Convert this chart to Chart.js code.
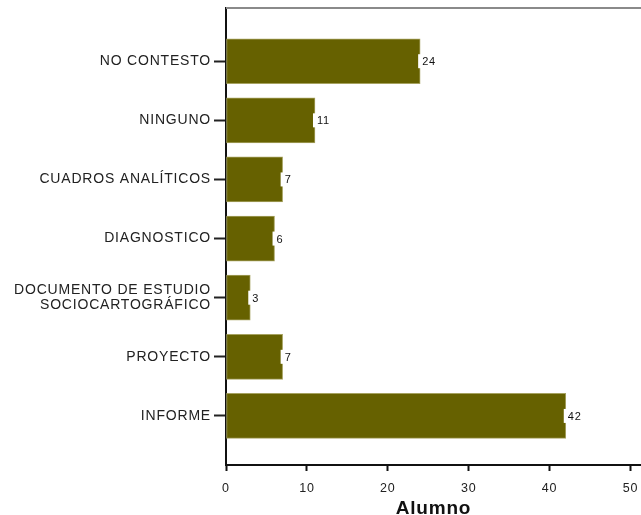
<!DOCTYPE html>
<html>
<head>
<meta charset="utf-8">
<script src="https://cdn.jsdelivr.net/npm/chart.js@4"></script>
<style>
  html, body { margin: 0; padding: 0; background: #fff; }
  #wrap { width: 641px; height: 515px; }
</style>
</head>
<body>
<div id="wrap"><canvas id="myChart"></canvas></div>
<script>
// data
const categories = [
  'NO CONTESTO',
  'NINGUNO',
  'CUADROS ANALÍTICOS',
  'DIAGNOSTICO',
  ['DOCUMENTO DE ESTUDIO', 'SOCIOCARTOGRÁFICO'],
  'PROYECTO',
  'INFORME'
];
const alumnos = [24, 11, 7, 6, 3, 7, 42];
const xTicks = [0, 10, 20, 30, 40, 50];

const barColor = '#666100';
const font = '"Liberation Sans", Arial, sans-serif';

// the original text is a bit wide, so loosen the letters
const spacing = {
  id: 'spacing',
  beforeDraw(chart) { chart.ctx.letterSpacing = '0.8px'; }
};

// gray frame line on top of the plot
const topLine = {
  id: 'topLine',
  afterDraw(chart) {
    const { ctx, chartArea } = chart;
    ctx.save();
    ctx.strokeStyle = '#8a8a8a';
    ctx.lineWidth = 2;
    ctx.beginPath();
    ctx.moveTo(chartArea.left, chartArea.top);
    ctx.lineTo(chart.width, chartArea.top);
    ctx.stroke();
    ctx.restore();
  }
};

// value labels at the end of each bar, on a white box
const valueLabels = {
  id: 'valueLabels',
  afterDatasetsDraw(chart) {
    const { ctx } = chart;
    const meta = chart.getDatasetMeta(0);
    ctx.save();
    ctx.font = '11px ' + font;
    ctx.textBaseline = 'middle';
    meta.data.forEach((bar, i) => {
      const txt = String(alumnos[i]);
      const w = ctx.measureText(txt).width;
      ctx.fillStyle = '#fff';
      ctx.fillRect(bar.x - 2, bar.y - 7, w + 4, 14);
      ctx.fillStyle = '#111';
      ctx.fillText(txt, bar.x + 2, bar.y + 1);
    });
    ctx.restore();
  }
};

const data = {
  datasets: [{
    label: 'Alumno',
    data: alumnos.map((v, i) => ({ x: v, y: i })),
    backgroundColor: barColor,
    borderColor: '#a6a260',
    borderWidth: 1,
    borderSkipped: false,
    barThickness: 45
  }]
};

const config = {
  type: 'bar',
  data: data,
  options: {
    indexAxis: 'y',
    responsive: true,
    maintainAspectRatio: false,
    animation: false,
    layout: { padding: { top: 8, right: 0, left: 0, bottom: 0 } },
    plugins: {
      legend: { display: false },
      tooltip: { enabled: false }
    },
    scales: {
      y: {
        type: 'linear',
        reverse: true,
        offset: false,
        min: -0.9,
        max: 6.83,
        afterBuildTicks(scale) {
          scale.ticks = categories.map((c, i) => ({ value: i }));
        },
        afterFit(scale) {
          scale.width = 226;
          scale.paddingTop = 0;
          scale.paddingBottom = 0;
        },
        ticks: {
          callback: (v) => categories[v],
          color: '#222',
          padding: 3,
          font: { family: font, size: 14, lineHeight: 1.05 }
        },
        grid: {
          offset: false,
          drawOnChartArea: false,
          drawTicks: true,
          tickLength: 12,
          tickWidth: 2,
          color: '#222'
        },
        border: { display: true, color: '#111', width: 2 }
      },
      x: {
        type: 'linear',
        min: 0,
        max: 51.3,
        afterBuildTicks(scale) {
          scale.ticks = xTicks.map(v => ({ value: v }));
        },
        afterFit(scale) {
          scale.height = 50;
          scale.paddingLeft = 0;
          scale.paddingRight = 0;
        },
        ticks: {
          color: '#222',
          padding: 10,
          font: { family: font, size: 12.5 }
        },
        grid: {
          drawOnChartArea: false,
          drawTicks: true,
          tickLength: 6,
          tickWidth: 2,
          color: '#111'
        },
        border: { display: true, color: '#111', width: 2 },
        title: {
          display: true,
          text: 'Alumno',
          color: '#111',
          padding: { top: 4, bottom: -5 },
          font: { family: font, size: 19, weight: 'bold' }
        }
      }
    }
  },
  plugins: [spacing, topLine, valueLabels]
};

const myChart = new Chart(document.getElementById('myChart'), config);
</script>
</body>
</html>
